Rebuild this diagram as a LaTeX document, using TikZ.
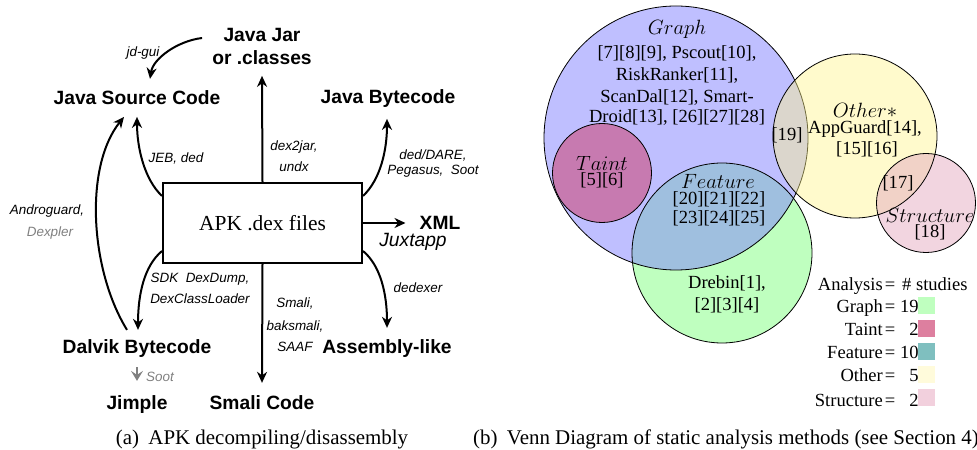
\documentclass[tikz,border=0pt]{standalone}
\usepackage{fontspec}
\setmainfont{Liberation Serif}
\setsansfont{Liberation Sans}
\usetikzlibrary{arrows.meta,calc}
\definecolor{gfill}{rgb}{0.5,0.5,1}
\definecolor{ffill}{rgb}{0.5,1,0.5}
\definecolor{tfill}{HTML}{C77AB0}
\definecolor{ofill}{rgb}{1,0.955,0.545}
\definecolor{sfill}{rgb}{0.9,0.67,0.76}
\definecolor{lgGraph}{HTML}{BFFFBF}
\definecolor{lgTaint}{HTML}{DD7F9F}
\definecolor{lgFeature}{HTML}{7FBFBF}
\definecolor{lgOther}{HTML}{FFFBDB}
\definecolor{lgStruct}{HTML}{F2D0DD}
\definecolor{soft}{gray}{0.5}
\begin{document}
\begin{tikzpicture}[x=1bp,y=-1bp,
  bl/.style={font=\fontsize{19.3}{23}\selectfont\sffamily\bfseries, inner sep=0, align=center},
  tl/.style={font=\fontsize{13.5}{16}\selectfont\sffamily\itshape, inner sep=0, anchor=base},
  arr/.style={line width=2bp, -{Stealth[length=11bp,width=10bp,inset=3.5bp]}},
  vt/.style={font=\fontsize{18.6}{21.5}\selectfont, inner sep=0, anchor=base, align=center},
  mt/.style={font=\fontsize{20}{22}\selectfont, inner sep=0, anchor=base},
  captxt/.style={font=\fontsize{21}{24}\selectfont, inner sep=0, anchor=base},
  swatch/.style={minimum width=17bp, minimum height=17bp, inner sep=0, draw=none, anchor=north west},
  venn/.style={line width=0.8bp, draw=black}
]
\useasboundingbox (0,0) rectangle (977,450);

% ---------- left panel ----------
\node[bl] (jar) at (262,46.5) {Java Jar\\or .classes};
\node[bl, anchor=base] (jsc) at (137,105) {Java Source Code};
\node[bl, anchor=base] (jbc) at (388,104) {Java Bytecode};
\node[draw, line width=2bp, minimum width=199bp, minimum height=80bp, inner sep=0,
      font=\fontsize{21.5}{24}\selectfont] (apk) at (262.5,223) {APK .dex files};
\node[bl, anchor=base] (xml) at (440,230) {XML};
\node[bl, anchor=base] (dalvik) at (137,354) {Dalvik Bytecode};
\node[bl, anchor=base] (asm) at (387,354) {Assembly-like};
\node[bl, anchor=base] (jimple) at (137,409) {Jimple};
\node[bl, anchor=base] (smali) at (262,409) {Smali Code};

% labels
\node[tl] (ljd) at (143,57) {jd-gui};
\node[tl] (ljeb) at (176,163) {JEB, ded};
\node[tl] (ldex) at (294,151) {dex2jar,};
\node[tl] (lundx) at (294,172) {undx};
\node[tl] (lded) at (433,160) {ded/DARE,};
\node[tl] (lpeg) at (433,175) {Pegasus,~ Soot};
\node[tl] (land) at (47,215) {Androguard,};
\node[tl, text=soft] (ldexp) at (50,237) {Dexpler};
\node[font=\fontsize{19.3}{23}\selectfont\sffamily\itshape, inner sep=0, anchor=base] (ljux) at (413,247) {Juxtapp};
\node[tl] (lsdk) at (200,283) {SDK~ DexDump,};
\node[tl] (lcl) at (200,304) {DexClassLoader};
\node[tl] (lsm1) at (295,308) {Smali,};
\node[tl] (lsm2) at (295,331) {baksmali,};
\node[tl] (lsm3) at (295,352) {SAAF};
\node[tl] (ldedx) at (418,293) {dedexer};
\node[tl, text=soft] (lsoot) at (160,382) {Soot};

% arrows
\draw[arr] ($(jar.west)+(-10,-8.5)$) .. controls +(-25,3) and +(3,-20) .. ($(jsc.north)+(13,-12)$);
\draw[arr] (apk.north) -- ($(jar.south)+(0,11)$);
\draw[arr] ($(apk.north west)+(0,14)$) .. controls +(-18,-17) and +(0,30) .. ($(jsc.north)+(0,26)$);
\draw[arr] ($(dalvik.north)+(-10,-10)$) .. controls +(-37,-60) and +(-40,50) .. ($(jsc.north)+(-13,26)$);
\draw[arr] ($(apk.north east)+(0,14)$) .. controls +(18,-17) and +(0,30) .. ($(jbc.north)+(-1,29)$);
\draw[arr] (apk.east) -- ($(apk.east -| xml.west)+(-14,0)$);
\draw[arr] ($(apk.south west)+(0,-13)$) .. controls +(-18,15) and +(0,-35) .. ($(dalvik.north)+(1,-10)$);
\draw[arr] ($(apk.south east)+(0,-13)$) .. controls +(18,15) and +(0,-33) .. ($(asm.north)+(0,-12)$);
\draw[arr] (apk.south) -- ($(smali.north)+(0,-12)$);
\draw[soft, line width=2.5bp, -{Stealth[length=10bp,width=12bp,inset=4bp]}] ($(dalvik.south)+(0,9)$) -- ($(jimple.north)+(0,-14)$);

\node[captxt] (capa) at (262,444) {(a)\hspace{0.45em}APK decompiling/disassembly};

% ---------- right panel: Venn ----------
\fill[ffill, fill opacity=0.5] (722,253) circle (90);
\fill[gfill, fill opacity=0.5] (676,138) circle (132);
\draw[venn] (722,253) circle (90);
\draw[venn] (676,138) circle (132);
\fill[tfill] (602,173) circle (49.5);
\draw[venn] (602,173) circle (49.5);
\fill[ofill, fill opacity=0.44] (855,136) circle (82);
\fill[sfill, fill opacity=0.5] (926,203) circle (49.5);
\draw[venn] (855,136) circle (82);
\draw[venn] (926,203) circle (49.5);

\node[mt] (tgraph) at (677,35) {$Graph$};
\node[vt] (tg1) at (677,59) {[7][8][9], Pscout[10],};
\node[vt] (tg2) at (677,81) {RiskRanker[11],};
\node[vt] (tg3) at (677,103) {ScanDal[12], Smart-};
\node[vt] (tg4) at (677,123) {Droid[13], [26][27][28]};
\node[vt] (t19) at (787,141) {[19]};
\node[mt] (tother) at (865,118) {$Other*$};
\node[vt] (to1) at (865,134) {AppGuard[14],};
\node[vt] (to2) at (867,155) {[15][16]};
\node[mt] (ttaint) at (602,171) {$Taint$};
\node[vt] (tt1) at (602,186) {[5][6]};
\node[mt] (tfeat) at (718,189) {$Feature$};
\node[vt] (tf1) at (719,205) {[20][21][22]};
\node[vt] (tf2) at (719,224) {[23][24][25]};
\node[vt] (t17) at (898,189) {[17]};
\node[mt] (tstruct) at (930,223) {$Structure$};
\node[vt] (ts1) at (930,238) {[18]};
\node[vt] (td1) at (727,289) {Drebin[1],};
\node[vt] (td2) at (727,311) {[2][3][4]};

% legend
\begin{scope}[every node/.style={font=\fontsize{18.6}{21.5}\selectfont, inner sep=0}]
\node[anchor=base east] (lh) at (883,291) {Analysis};
\node[anchor=base] (lhe) at (890,291) {=};
\node[anchor=base west] (lhs) at (902,291) {\# studies};
\node[anchor=base east] (lg) at (883,313) {Graph};
\node[anchor=base] (lge) at (890,313) {=};
\node[anchor=base west] (lgn) at (900,313) {19};
\node[anchor=base east] (lt) at (883,336) {Taint};
\node[anchor=base] (lte) at (890,336) {=};
\node[anchor=base west] (ltn) at (900,336) {\phantom{1}2};
\node[anchor=base east] (lf) at (883,359) {Feature};
\node[anchor=base] (lfe) at (890,359) {=};
\node[anchor=base west] (lfn) at (900,359) {10};
\node[anchor=base east] (lo) at (883,382) {Other};
\node[anchor=base] (loe) at (890,382) {=};
\node[anchor=base west] (lon) at (900,382) {\phantom{1}5};
\node[anchor=base east] (ls) at (883,406) {Structure};
\node[anchor=base] (lse) at (890,406) {=};
\node[anchor=base west] (lsn) at (900,406) {\phantom{1}2};
\end{scope}
\node[swatch, fill=lgGraph] (sg) at (918,297) {};
\node[swatch, fill=lgTaint] (st) at (918,320) {};
\node[swatch, fill=lgFeature] (sf) at (918,343) {};
\node[swatch, fill=lgOther] (so) at (918,366) {};
\node[swatch, fill=lgStruct] (ss) at (918,389) {};

\node[captxt, anchor=base west] (capb) at (473,444) {(b)\hspace{0.45em}Venn Diagram of static analysis methods (see Section 4)};
\end{tikzpicture}
\end{document}
